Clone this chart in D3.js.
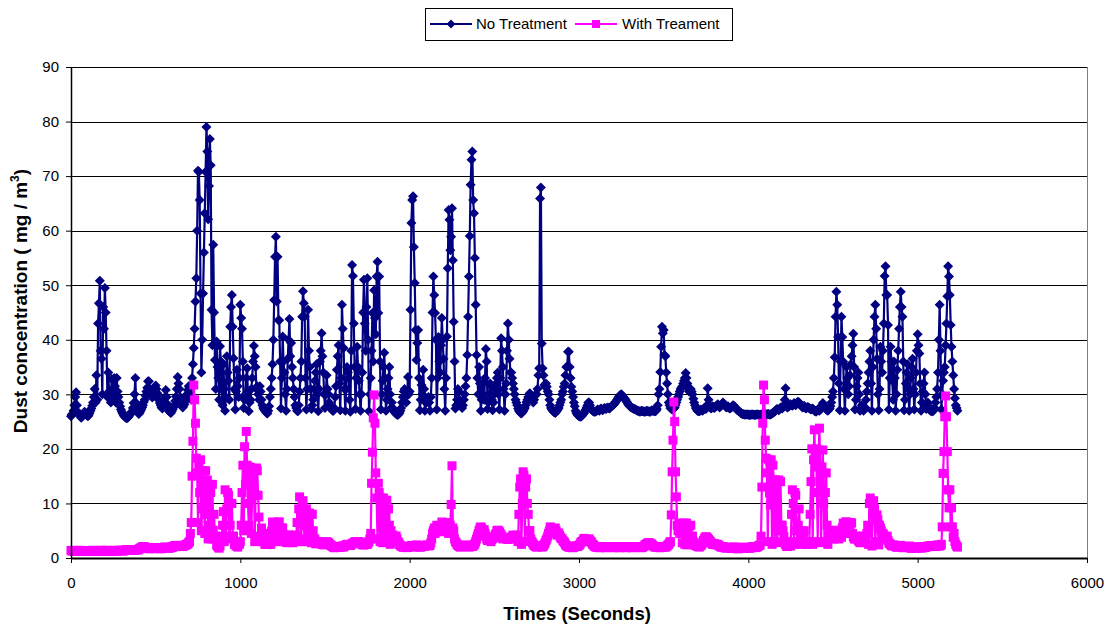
<!DOCTYPE html>
<html>
<head>
<meta charset="utf-8">
<script src="https://cdn.jsdelivr.net/npm/d3@7"></script>
<style>
  body { margin: 0; background: #fff; }
  svg { font-family: "Liberation Sans", Arial, sans-serif; }
</style>
</head>
<body>
<svg id="chart" width="1108" height="628"></svg>
<script>
// readings every 5 s, 0 .. 5235 s (one line = 100 s)
var sampleStep = 5;

var noTreatment = [
  26.0,26.3,26.5,27.0,28.0,29.5,30.4,28.0,26.8,26.4,26.2,26.0,25.7,25.9,26.1,26.5,26.8,26.6,26.3,26.1,
  26.0,26.2,26.6,27.0,27.4,27.9,28.5,29.5,31.0,28.5,33.5,29.0,43.0,46.7,50.8,38.0,36.5,30.0,46.0,42.0,
  49.5,45.0,38.0,29.5,34.0,30.5,30.5,28.5,32.8,29.5,29.0,33.0,31.5,28.5,33.0,30.5,29.5,28.5,27.8,27.2,
  26.8,26.5,26.2,26.0,25.8,25.7,25.6,25.7,25.9,26.1,26.4,26.6,26.9,27.5,28.4,30.0,33.0,28.4,27.3,26.8,
  26.4,26.6,26.9,27.2,27.6,28.0,28.6,29.0,29.8,30.5,31.2,32.4,32.4,31.0,30.2,29.8,29.4,30.0,30.6,31.2,
  31.6,31.0,30.2,29.5,28.9,28.4,28.0,27.6,27.4,28.0,28.6,29.5,30.8,29.5,28.2,27.5,26.9,26.7,26.6,26.9,
  27.2,27.6,28.0,28.8,29.6,31.0,33.2,32.0,31.0,29.5,28.4,28.0,27.6,27.9,28.2,28.8,29.4,30.0,30.8,31.5,
  31.5,30.0,29.0,33.0,35.5,38.5,42.0,47.0,51.3,60.0,71.0,70.8,65.6,48.5,34.0,40.0,48.5,56.0,63.2,70.8,
  79.0,74.5,62.1,68.2,76.8,72.0,45.5,39.0,57.4,45.0,36.3,31.0,39.7,35.0,33.0,29.0,38.8,36.0,31.0,28.0,
  35.5,31.0,27.0,29.5,37.0,34.0,32.5,29.0,42.4,46.0,48.2,42.4,36.6,31.0,27.2,30.5,34.5,31.5,29.5,33.0,
  46.4,44.0,42.0,36.0,27.5,29.0,30.0,33.0,34.8,30.0,26.9,28.5,29.0,31.0,33.0,36.0,38.9,37.0,35.0,31.0,
  31.5,30.0,29.0,31.5,30.5,29.0,28.0,27.5,27.2,27.0,26.8,26.6,26.5,27.0,27.8,29.5,31.0,33.0,35.5,40.0,
  47.3,55.2,58.9,47.0,55.2,43.6,43.6,36.0,27.4,33.0,40.6,36.0,34.0,30.0,27.0,31.0,36.5,40.0,43.8,37.0,
  39.4,35.0,33.0,31.0,29.5,28.0,27.5,27.0,26.9,28.0,30.5,33.0,36.0,44.2,48.9,46.7,44.2,33.0,27.2,31.0,
  45.5,38.0,35.0,31.0,27.3,28.0,29.0,31.0,32.5,34.0,35.5,30.0,26.9,31.0,36.0,38.0,41.2,37.0,34.0,30.0,
  27.5,30.0,33.5,31.0,30.0,28.5,28.0,27.5,27.2,27.0,27.0,27.5,29.5,31.5,34.5,37.0,39.0,32.0,27.1,33.0,
  46.4,42.0,38.5,31.0,27.0,31.0,35.0,34.0,33.0,29.0,26.8,38.0,53.7,51.7,43.0,35.0,27.3,33.0,38.7,35.0,
  32.5,30.0,27.0,30.0,34.0,45.0,51.0,43.0,38.0,46.0,51.3,40.0,26.9,30.0,33.0,38.0,44.9,36.0,49.1,44.0,
  41.0,51.6,54.3,44.9,51.6,36.0,27.2,30.0,32.5,35.0,37.6,33.0,27.0,29.0,31.0,33.0,35.0,30.0,27.5,28.5,
  27.5,27.0,26.8,26.6,26.4,26.3,26.2,26.4,26.6,27.0,27.5,28.5,29.5,30.5,31.0,29.5,28.5,30.0,33.2,30.0,
  30.5,45.5,61.4,65.6,66.3,57.0,50.4,41.8,36.3,39.4,41.8,33.0,27.1,29.0,31.7,30.0,34.5,31.0,27.0,28.5,
  28.5,29.0,29.5,28.5,27.0,29.5,33.0,45.0,51.6,48.2,44.9,40.0,27.2,33.0,40.5,36.0,34.0,39.0,44.0,40.0,
  36.5,31.0,27.0,33.0,40.6,53.1,63.8,62.0,56.4,58.9,64.1,54.6,43.3,36.0,27.4,28.0,29.0,31.0,30.5,29.0,
  28.0,27.8,27.5,28.0,29.0,30.0,31.5,33.0,37.2,44.2,51.6,59.0,68.4,73.0,74.5,65.6,63.2,55.0,46.4,37.2,
  33.0,30.0,35.0,32.0,27.0,29.0,32.0,30.0,29.0,33.0,38.3,36.0,27.3,28.5,30.0,32.0,31.5,29.0,27.1,28.5,
  30.0,31.0,32.0,33.0,34.0,30.0,27.2,33.0,40.3,38.0,35.0,31.0,27.0,30.0,32.0,38.0,43.0,40.0,36.5,34.0,
  34.0,33.0,32.0,31.0,30.0,29.0,28.5,28.0,27.4,27.0,26.8,26.6,26.5,26.7,26.9,27.2,27.5,28.0,28.6,29.0,
  29.5,30.0,30.2,29.5,29.0,28.8,28.5,29.0,29.8,30.0,30.0,31.0,33.5,34.8,65.9,67.9,39.3,34.8,33.5,31.7,
  31.4,32.0,31.4,30.5,30.0,29.0,28.0,27.5,27.2,27.0,26.8,26.7,26.6,26.8,27.0,27.2,27.5,28.0,28.5,29.0,
  30.0,30.5,31.4,32.0,33.5,35.0,35.0,37.8,37.8,35.0,33.0,31.4,30.5,29.5,28.5,27.8,27.0,26.6,26.3,26.1,
  26.0,26.0,25.9,26.0,26.2,26.4,26.6,26.9,27.2,27.6,28.0,28.5,28.5,28.0,27.4,27.2,27.0,26.9,26.8,26.8,
  26.9,27.0,27.2,27.1,27.0,27.2,27.4,27.2,27.1,27.3,27.5,27.4,27.3,27.5,27.6,27.5,27.4,27.6,27.8,27.9,
  28.0,28.1,28.3,28.5,28.8,29.0,29.3,29.5,29.8,29.9,30.0,29.8,29.6,29.4,29.2,29.0,28.7,28.5,28.2,28.0,
  27.8,27.7,27.6,27.5,27.4,27.3,27.3,27.2,27.1,27.0,27.0,26.9,26.8,26.9,27.0,26.9,26.9,26.8,26.8,26.9,
  27.0,26.9,26.9,26.8,26.8,26.9,27.1,27.0,27.0,26.9,26.9,27.0,27.3,28.0,30.0,31.0,34.1,38.7,42.4,41.2,
  41.8,37.2,37.0,34.0,32.0,30.0,28.5,28.0,27.5,27.3,27.2,27.3,27.4,27.6,28.0,28.5,29.0,29.5,30.0,30.5,
  31.0,31.2,31.5,32.0,32.5,33.0,33.9,33.0,32.0,31.0,30.5,30.8,31.0,30.5,30.0,29.2,28.5,28.0,27.5,27.2,
  27.0,26.9,26.9,27.0,27.2,27.1,27.0,27.2,27.5,27.4,27.3,28.0,31.1,29.0,28.0,27.6,27.4,27.6,27.8,27.6,
  27.5,27.7,27.9,28.0,28.2,27.9,27.6,27.8,28.0,28.2,28.5,28.3,28.1,27.8,27.6,27.7,27.8,27.6,27.4,27.5,
  27.6,27.8,28.0,27.9,27.7,27.5,27.3,27.1,27.0,26.9,26.8,26.6,26.5,26.4,26.4,26.3,26.3,26.3,26.3,26.3,
  26.3,26.2,26.2,26.3,26.3,26.3,26.3,26.2,26.2,26.3,26.3,26.3,26.3,26.2,26.2,26.3,26.3,26.4,26.4,26.4,
  26.4,26.3,26.3,26.4,26.4,26.3,26.3,26.4,26.5,26.6,26.7,26.8,27.0,27.2,27.3,27.2,27.1,27.3,27.6,27.5,
  27.4,27.6,28.0,29.0,31.1,28.5,27.6,27.7,27.8,28.0,28.2,28.0,27.9,28.1,28.4,28.2,28.0,28.3,28.6,28.6,
  28.5,28.2,28.0,27.8,27.6,27.7,27.9,27.6,27.4,27.5,27.7,27.6,27.5,27.3,27.2,27.3,27.4,27.2,27.0,26.9,
  26.8,27.0,27.2,27.1,27.0,27.2,27.5,28.0,28.4,28.0,27.6,27.4,27.2,27.1,27.0,27.2,27.4,27.8,28.5,29.5,
  30.5,33.0,36.8,44.2,48.8,46.4,40.5,32.0,27.1,36.0,44.2,40.5,36.0,31.0,27.0,31.0,35.0,33.0,30.0,31.5,
  33.5,35.5,37.0,39.0,41.1,35.0,27.2,29.0,31.5,33.0,34.0,30.0,27.0,27.5,28.0,27.4,27.0,27.2,27.6,29.0,
  30.5,32.0,34.0,36.0,38.0,32.0,27.0,35.0,40.0,44.2,46.4,42.0,36.5,30.0,27.1,31.0,38.7,36.0,34.0,38.0,
  43.0,51.7,53.5,48.2,48.2,42.7,27.2,33.0,38.7,36.0,32.5,29.0,36.0,33.0,27.0,30.0,34.5,38.0,42.0,46.0,
  48.8,46.0,44.2,36.0,27.1,29.0,32.0,34.0,35.5,31.0,27.0,30.0,33.0,35.0,36.5,31.0,27.2,30.0,34.0,38.0,
  41.0,39.0,37.5,32.0,27.0,28.5,30.5,32.0,34.0,30.0,27.3,27.8,28.5,27.8,27.2,27.0,27.0,26.9,26.9,27.2,
  27.5,28.5,29.5,31.0,34.0,40.0,46.4,38.0,27.2,30.0,32.5,34.0,35.0,39.0,43.0,48.0,53.5,51.6,48.2,42.7,
  38.7,36.0,33.5,31.0,29.3,28.0,27.5,27.0
];

var withTreatment = [
  1.4,1.3,1.3,1.3,1.3,1.2,1.2,1.3,1.3,1.4,1.4,1.3,1.3,1.2,1.2,1.3,1.3,1.3,1.3,1.3,
  1.3,1.2,1.2,1.3,1.3,1.4,1.4,1.3,1.3,1.3,1.3,1.2,1.2,1.2,1.3,1.4,1.4,1.3,1.3,1.3,
  1.3,1.4,1.4,1.3,1.3,1.3,1.3,1.2,1.2,1.3,1.3,1.4,1.4,1.3,1.3,1.3,1.3,1.4,1.4,1.4,
  1.4,1.3,1.3,1.4,1.4,1.5,1.5,1.4,1.4,1.4,1.4,1.5,1.5,1.4,1.4,1.5,1.5,1.5,1.5,1.5,
  1.6,1.7,1.8,1.9,2.0,2.1,2.1,2.0,1.9,1.8,1.8,1.8,1.8,1.7,1.7,1.8,1.8,1.9,1.9,1.8,
  1.8,1.9,1.9,1.8,1.8,1.7,1.7,1.8,1.8,1.9,1.9,2.0,2.0,1.9,1.9,1.8,1.8,1.9,1.9,2.0,
  2.0,2.1,2.2,2.3,2.3,2.2,2.2,2.3,2.3,2.2,2.2,2.1,2.1,2.2,2.3,2.4,2.4,2.5,2.6,2.8,
  3.0,4.5,6.5,15.0,21.4,31.7,29.0,24.7,18.3,15.6,6.5,17.0,12.0,18.0,5.0,16.0,9.0,14.3,4.5,16.0,
  8.0,14.3,3.5,13.5,6.0,12.0,3.5,13.5,5.1,8.0,3.5,4.0,2.4,2.2,2.0,1.8,2.2,3.0,4.0,6.0,
  8.5,3.0,12.5,4.0,9.0,12.0,11.5,3.5,6.0,10.0,10.0,4.0,4.0,2.5,3.0,2.2,2.5,2.0,2.8,2.5,
  3.0,6.0,12.0,17.0,5.0,20.4,13.4,23.2,17.0,10.0,6.0,16.7,16.5,4.5,12.0,15.5,16.0,3.0,11.5,16.5,
  16.0,11.5,7.5,4.0,3.0,5.5,4.0,3.0,4.5,2.5,2.5,3.5,3.0,2.5,3.5,4.5,2.5,5.0,6.6,3.0,
  4.5,6.2,6.2,3.0,5.0,6.6,6.6,3.5,3.8,5.5,5.5,3.0,4.2,3.0,3.0,2.8,3.5,4.2,4.2,3.2,
  3.2,3.0,2.8,3.0,3.5,3.8,4.2,6.5,3.0,9.0,11.2,8.0,3.5,10.0,10.5,6.0,3.0,8.2,9.0,3.5,
  3.0,8.2,8.2,3.0,2.8,8.0,5.0,3.0,3.5,2.6,3.0,2.8,2.8,3.0,3.0,2.6,2.7,2.5,2.5,2.4,
  2.6,2.8,3.0,2.9,2.8,2.6,2.5,2.3,2.2,2.1,2.0,1.9,1.9,2.0,2.0,2.1,2.1,2.0,2.0,2.1,
  2.2,2.1,2.0,2.2,2.3,2.4,2.5,2.5,2.4,2.3,2.3,2.5,2.6,2.7,2.8,2.9,3.0,3.0,2.9,3.0,
  3.0,2.8,2.7,2.6,2.5,2.4,2.4,2.5,2.6,2.5,2.5,2.8,3.0,3.5,4.5,13.7,19.4,25.7,29.9,24.7,
  15.6,11.0,3.5,13.7,12.0,3.0,11.0,8.0,2.8,11.0,10.6,3.0,7.5,10.6,3.5,9.0,6.0,2.5,5.0,4.0,
  4.2,3.8,3.5,4.0,4.0,3.5,3.0,2.8,2.5,2.3,2.2,2.1,2.0,2.0,2.1,2.0,1.9,2.0,2.0,2.1,
  2.1,2.2,2.3,2.1,2.0,2.1,2.2,2.3,2.4,2.3,2.2,2.1,2.0,2.0,2.1,2.2,2.3,2.2,2.2,2.3,
  2.4,2.3,2.2,2.3,2.3,2.8,3.5,4.5,5.0,5.5,4.5,5.0,6.0,5.8,5.5,5.0,4.8,5.5,6.6,6.0,
  5.0,5.5,5.7,6.0,6.5,6.0,4.5,5.0,6.0,9.8,16.9,5.5,5.0,3.5,3.0,2.8,2.5,2.3,2.2,2.1,
  2.0,2.1,2.2,2.2,2.1,2.2,2.4,2.3,2.2,2.1,2.0,2.1,2.3,2.2,2.1,2.2,2.4,2.6,3.0,3.5,
  4.0,4.5,5.0,5.5,5.7,5.5,4.5,5.0,5.2,4.5,4.0,3.5,3.2,3.3,3.5,3.2,3.0,3.4,3.6,3.7,
  3.8,4.2,4.5,5.0,5.1,5.0,4.8,4.5,4.2,3.8,3.5,3.6,3.8,3.7,3.6,3.5,3.4,3.6,3.8,3.6,
  3.5,3.8,4.2,4.0,3.8,4.0,4.2,3.5,3.0,8.0,13.0,14.5,2.5,10.0,15.8,15.2,3.0,13.0,14.5,10.0,
  8.0,5.0,5.0,3.5,3.0,2.8,2.5,2.3,2.2,2.1,2.0,2.1,2.1,2.2,2.3,2.2,2.0,2.1,2.2,2.5,
  2.8,3.2,3.5,4.0,4.5,5.0,5.7,5.5,5.0,4.8,4.8,5.0,5.5,5.0,4.2,4.4,4.6,4.2,3.8,3.6,
  3.5,3.2,3.0,2.8,2.5,2.3,2.2,2.1,2.0,2.0,2.1,2.0,1.9,1.9,2.0,2.1,2.2,2.2,2.1,2.2,
  2.3,2.5,2.8,3.0,3.0,3.3,3.6,3.5,3.4,3.3,3.2,3.4,3.5,3.2,3.0,2.8,2.5,2.4,2.2,2.1,
  2.0,2.0,2.1,2.0,1.9,1.9,2.0,2.1,2.1,2.0,2.0,1.9,1.9,2.0,2.0,2.1,2.1,2.0,2.0,2.0,
  2.0,1.9,1.9,2.0,2.1,2.0,2.0,1.9,1.9,2.0,2.0,2.1,2.1,2.0,2.0,1.9,1.9,2.0,2.0,2.0,
  2.1,2.0,2.0,1.9,1.9,2.0,2.0,2.1,2.1,2.0,2.0,2.0,2.0,1.9,1.9,2.0,2.1,2.2,2.4,2.5,
  2.6,2.7,2.8,2.8,2.7,2.6,2.5,2.3,2.2,2.1,2.0,2.0,2.1,2.0,2.0,1.9,1.9,2.0,2.0,2.1,
  2.1,2.0,2.0,2.1,2.2,2.4,2.5,2.8,3.0,7.9,15.8,21.6,28.6,25.0,15.8,11.2,6.0,5.0,6.4,4.5,
  5.5,6.0,2.8,5.5,6.4,2.5,5.8,6.4,2.4,5.8,5.8,3.0,6.0,4.0,4.0,3.0,2.5,2.4,2.3,2.2,
  2.2,2.1,2.0,2.2,2.3,2.5,2.8,3.2,3.5,3.8,3.9,3.8,3.6,3.4,3.2,3.0,2.8,2.6,2.5,2.6,
  2.6,2.5,2.4,2.5,2.5,2.3,2.2,2.1,2.0,2.0,2.1,2.0,1.9,1.9,1.8,1.9,2.0,1.9,1.9,1.8,
  1.8,1.9,1.9,2.0,2.0,1.9,1.8,1.7,1.7,1.8,1.9,1.8,1.8,1.9,2.0,1.9,1.9,1.8,1.8,1.9,
  1.9,1.8,1.8,1.9,2.0,2.1,2.1,2.0,1.9,2.0,2.0,2.1,2.2,2.3,2.4,4.0,13.0,24.7,31.7,29.0,
  21.6,18.3,15.6,3.0,18.0,11.9,9.7,18.0,2.5,17.0,14.3,3.0,14.3,9.0,2.8,14.0,14.3,5.0,14.0,6.0,
  6.0,5.0,3.9,3.0,2.5,2.2,2.1,2.5,3.0,2.5,2.2,8.0,12.5,10.0,2.5,12.0,11.5,5.0,3.0,6.0,
  9.0,5.0,2.5,5.0,4.5,4.0,5.0,3.0,3.0,2.5,2.5,3.0,3.0,8.0,14.0,20.0,2.5,18.0,23.5,16.7,
  20.0,12.0,3.0,19.8,23.8,14.0,2.8,16.7,19.8,10.0,3.0,12.0,15.6,6.0,2.5,4.0,4.0,5.0,4.5,3.5,
  5.1,4.0,3.5,4.2,4.2,5.0,4.0,3.5,5.0,4.5,3.8,5.5,6.4,6.0,5.0,6.6,6.6,5.0,4.5,5.5,
  6.0,6.5,6.4,4.5,3.9,3.5,3.5,4.0,4.0,3.5,3.2,3.0,2.8,2.9,3.0,3.5,4.0,3.8,3.5,4.0,
  4.5,6.0,2.5,10.0,11.0,10.0,2.2,8.0,10.5,9.0,3.0,7.5,7.9,7.0,2.4,6.0,5.5,5.0,4.0,4.5,
  4.2,3.8,3.5,3.8,4.0,3.2,2.8,2.6,2.5,2.3,2.2,2.3,2.4,2.2,2.1,2.0,2.0,2.1,2.2,2.3,
  2.3,2.1,2.0,1.9,1.9,2.0,2.1,2.0,2.0,2.1,2.2,2.0,1.8,1.8,1.9,2.0,2.0,1.9,1.8,1.9,
  1.9,2.0,2.0,1.9,1.8,1.9,2.1,2.0,1.9,2.0,2.0,2.1,2.2,2.1,2.1,2.2,2.3,2.2,2.2,2.3,
  2.3,2.2,2.1,2.2,2.4,2.3,2.2,2.3,2.5,5.7,15.5,19.5,25.9,29.7,25.9,19.5,12.5,9.2,12.5,5.7,
  9.2,5.7,3.8,4.5,3.0,2.5,2.2,2.0
];

var xTicks = [0, 1000, 2000, 3000, 4000, 5000, 6000];
var yTicks = [0, 10, 20, 30, 40, 50, 60, 70, 80, 90];

var svg = d3.select("#chart"),
    width = +svg.attr("width"),
    height = +svg.attr("height");

var plotLeft = 71, plotRight = 1087, plotTop = 67, plotBottom = 558;

var x = d3.scaleLinear().domain([0, 6000]).range([plotLeft, plotRight]);
var y = d3.scaleLinear().domain([0, 90]).range([plotBottom, plotTop]);

function tOf(i) { return i * sampleStep; }

// grid
svg.append("g").selectAll("line")
    .data(yTicks.slice(1))
    .enter().append("line")
    .attr("x1", plotLeft).attr("x2", plotRight)
    .attr("y1", function(d) { return Math.round(y(d)) + 0.5; })
    .attr("y2", function(d) { return Math.round(y(d)) + 0.5; })
    .attr("stroke", "#000")
    .attr("stroke-width", 1);

// right frame edge
svg.append("line")
    .attr("x1", plotRight + 0.5).attr("x2", plotRight + 0.5)
    .attr("y1", plotTop).attr("y2", plotBottom)
    .attr("stroke", "#808080");

var line = d3.line()
    .x(function(d, i) { return x(tOf(i)); })
    .y(function(d) { return y(d); });

var diamond = "M0,-5L5,0L0,5L-5,0Z";

// No Treatment
svg.append("path")
    .datum(noTreatment)
    .attr("d", line)
    .attr("fill", "none")
    .attr("stroke", "#000080")
    .attr("stroke-width", 2.2);

svg.append("g").selectAll("path")
    .data(noTreatment)
    .enter().append("path")
    .attr("d", diamond)
    .attr("transform", function(d, i) { return "translate(" + x(tOf(i)) + "," + y(d) + ")"; })
    .attr("fill", "#000080");

// With Treament
svg.append("path")
    .datum(withTreatment)
    .attr("d", line)
    .attr("fill", "none")
    .attr("stroke", "#ff00ff")
    .attr("stroke-width", 2.2);

svg.append("g").selectAll("rect")
    .data(withTreatment)
    .enter().append("rect")
    .attr("x", function(d, i) { return x(tOf(i)) - 4.5; })
    .attr("y", function(d) { return y(d) - 4.5; })
    .attr("width", 9).attr("height", 9)
    .attr("fill", "#ff00ff");

// axes
var xAxis = svg.append("g")
    .attr("transform", "translate(0," + plotBottom + ")")
    .call(d3.axisBottom(x).tickValues(xTicks).tickFormat(d3.format("d"))
        .tickSize(5).tickSizeOuter(0).tickPadding(14));
xAxis.select(".domain").attr("stroke-width", 2);
xAxis.selectAll("text").attr("font-size", 15).attr("font-family", "Liberation Sans, Arial, sans-serif");

var yAxis = svg.append("g")
    .attr("transform", "translate(" + plotLeft + ",0)")
    .call(d3.axisLeft(y).tickValues(yTicks).tickSize(5).tickSizeOuter(0).tickPadding(7));
yAxis.select(".domain").attr("stroke-width", 1.5);
yAxis.selectAll("text").attr("font-size", 15).attr("font-family", "Liberation Sans, Arial, sans-serif");

// axis titles
svg.append("text")
    .attr("x", 577).attr("y", 620)
    .attr("text-anchor", "middle")
    .attr("font-weight", "bold")
    .attr("font-size", 18.5)
    .text("Times (Seconds)");

var yt = svg.append("text")
    .attr("transform", "translate(27,301) rotate(-90)")
    .attr("text-anchor", "middle")
    .attr("font-weight", "bold")
    .attr("font-size", 19);
yt.append("tspan").text("Dust concentration ( mg / m");
yt.append("tspan").attr("font-size", 12).attr("dy", -8).text("3");
yt.append("tspan").attr("dy", 8).text(")");

// legend
var lg = svg.append("g");
lg.append("rect")
    .attr("x", 425.5).attr("y", 8.5).attr("width", 307).attr("height", 32)
    .attr("fill", "#fff").attr("stroke", "#000");
lg.append("line").attr("x1", 430).attr("x2", 472).attr("y1", 24).attr("y2", 24)
    .attr("stroke", "#000080").attr("stroke-width", 2);
lg.append("path").attr("d", "M0,-4.5L4.5,0L0,4.5L-4.5,0Z").attr("transform", "translate(451,24)").attr("fill", "#000080");
lg.append("text").attr("x", 476).attr("y", 24).attr("dy", "0.35em").attr("font-size", 15).text("No Treatment");
lg.append("line").attr("x1", 575).attr("x2", 617).attr("y1", 24).attr("y2", 24)
    .attr("stroke", "#ff00ff").attr("stroke-width", 2);
lg.append("rect").attr("x", 592).attr("y", 20).attr("width", 8).attr("height", 8).attr("fill", "#ff00ff");
lg.append("text").attr("x", 622).attr("y", 24).attr("dy", "0.35em").attr("font-size", 15).text("With Treament");
</script>
</body>
</html>
